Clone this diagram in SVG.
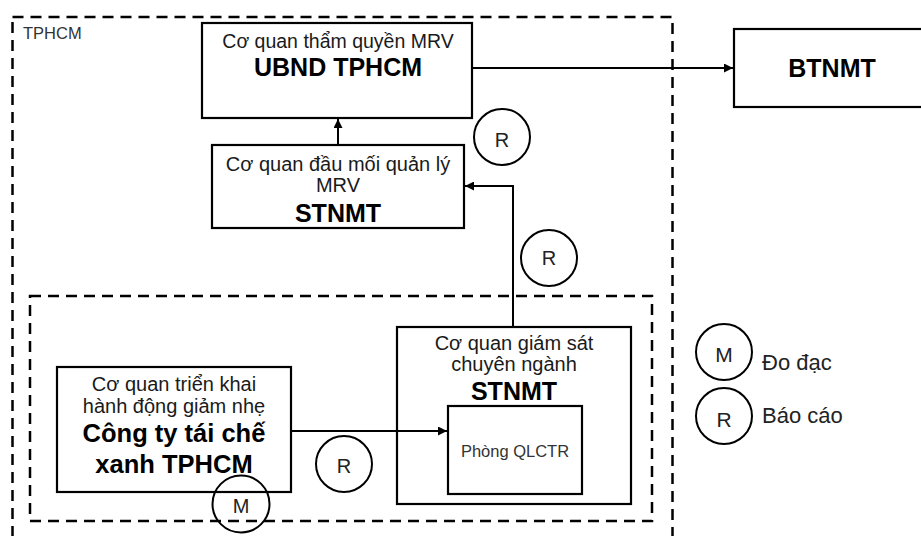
<svg xmlns="http://www.w3.org/2000/svg" width="921" height="536" viewBox="0 0 921 536">
<defs>
<style>
.box{fill:#fff;stroke:#000;stroke-width:2.2}
.dash{fill:none;stroke:#000;stroke-width:2.5;stroke-dasharray:11 7}
.circ{fill:none;stroke:#000;stroke-width:2}
.line{fill:none;stroke:#000;stroke-width:2}
.t{font-family:"Liberation Sans",Arial,sans-serif;font-size:20px;fill:#1a1a1a;text-anchor:middle}
.b{font-family:"Liberation Sans",Arial,sans-serif;font-size:25px;font-weight:bold;fill:#000;text-anchor:middle}
.c{font-family:"Liberation Sans",Arial,sans-serif;font-size:20px;fill:#222;text-anchor:middle}
.lg{font-family:"Liberation Sans",Arial,sans-serif;font-size:22px;fill:#222}
</style>
<marker id="arr" viewBox="0 0 10 10" refX="10" refY="5" markerWidth="4.5" markerHeight="4.5" orient="auto" markerUnits="strokeWidth">
<path d="M0,0 L10,5 L0,10 z" fill="#000"/>
</marker>
</defs>
<rect width="921" height="536" fill="#fff"/>
<g id="region-tphcm">
<rect class="dash" x="12.5" y="17" width="660" height="545"/>
<text x="23" y="39" style="font-family:'Liberation Sans',Arial,sans-serif;font-size:16.5px;fill:#333">TPHCM</text>
</g>
<g id="region-inner">
<rect class="dash" x="30" y="296" width="622" height="225"/>
</g>
<g id="ubnd">
<rect class="box" x="202" y="23" width="270" height="95"/>
<text class="t" x="338" y="48" style="font-size:19.5px">Cơ quan thẩm quyền MRV</text>
<text class="b" x="338" y="76">UBND TPHCM</text>
</g>
<g id="btnmt">
<rect class="box" x="734" y="29" width="200" height="78"/>
<text class="b" x="832" y="77">BTNMT</text>
</g>
<g id="stnmt-top">
<rect class="box" x="212" y="145" width="252" height="83"/>
<text class="t" x="338" y="171">Cơ quan đầu mối quản lý</text>
<text class="t" x="338" y="192">MRV</text>
<text class="b" x="338" y="222">STNMT</text>
</g>
<g id="company">
<rect class="box" x="57" y="367" width="234" height="125"/>
<text class="t" x="174" y="391">Cơ quan triển khai</text>
<text class="t" x="174" y="413">hành động giảm nhẹ</text>
<text class="b" x="174" y="442" style="font-size:25.5px">Công ty tái chế</text>
<text class="b" x="174" y="473" style="font-size:25.5px">xanh TPHCM</text>
</g>
<g id="supervision">
<rect class="box" x="397" y="327" width="234" height="177"/>
<text class="t" x="514" y="350">Cơ quan giám sát</text>
<text class="t" x="514" y="371">chuyên ngành</text>
<text class="b" x="514" y="400">STNMT</text>
</g>
<g id="phong">
<rect class="box" x="448" y="406" width="134" height="88"/>
<text class="t" x="515" y="457" style="font-size:16.5px;fill:#333">Phòng QLCTR</text>
</g>
<g id="connectors">
<line class="line" x1="472" y1="68" x2="733" y2="68" marker-end="url(#arr)"/>
<line class="line" x1="338" y1="145" x2="338" y2="119" marker-end="url(#arr)"/>
<polyline class="line" points="513,327 513,186 465,186" marker-end="url(#arr)"/>
<line class="line" x1="291" y1="431" x2="447" y2="431" marker-end="url(#arr)"/>
</g>
<g id="r1">
<circle class="circ" cx="502" cy="137" r="28"/>
<text class="c" x="502" y="147">R</text>
</g>
<g id="r2">
<circle class="circ" cx="549" cy="258" r="28"/>
<text class="c" x="549" y="265">R</text>
</g>
<g id="r3">
<circle class="circ" cx="344" cy="464" r="28"/>
<text class="c" x="344" y="473">R</text>
</g>
<g id="m1">
<circle class="circ" cx="241" cy="504" r="28.5"/>
<text class="c" x="241" y="513">M</text>
</g>
<g id="legend-m">
<circle class="circ" cx="724" cy="352" r="28"/>
<text class="c" x="724" y="362" style="font-size:21px">M</text>
<text class="lg" x="762" y="370">Đo đạc</text>
</g>
<g id="legend-r">
<circle class="circ" cx="724" cy="416" r="28"/>
<text class="c" x="724" y="427" style="font-size:21px">R</text>
<text class="lg" x="762" y="423">Báo cáo</text>
</g>
</svg>
